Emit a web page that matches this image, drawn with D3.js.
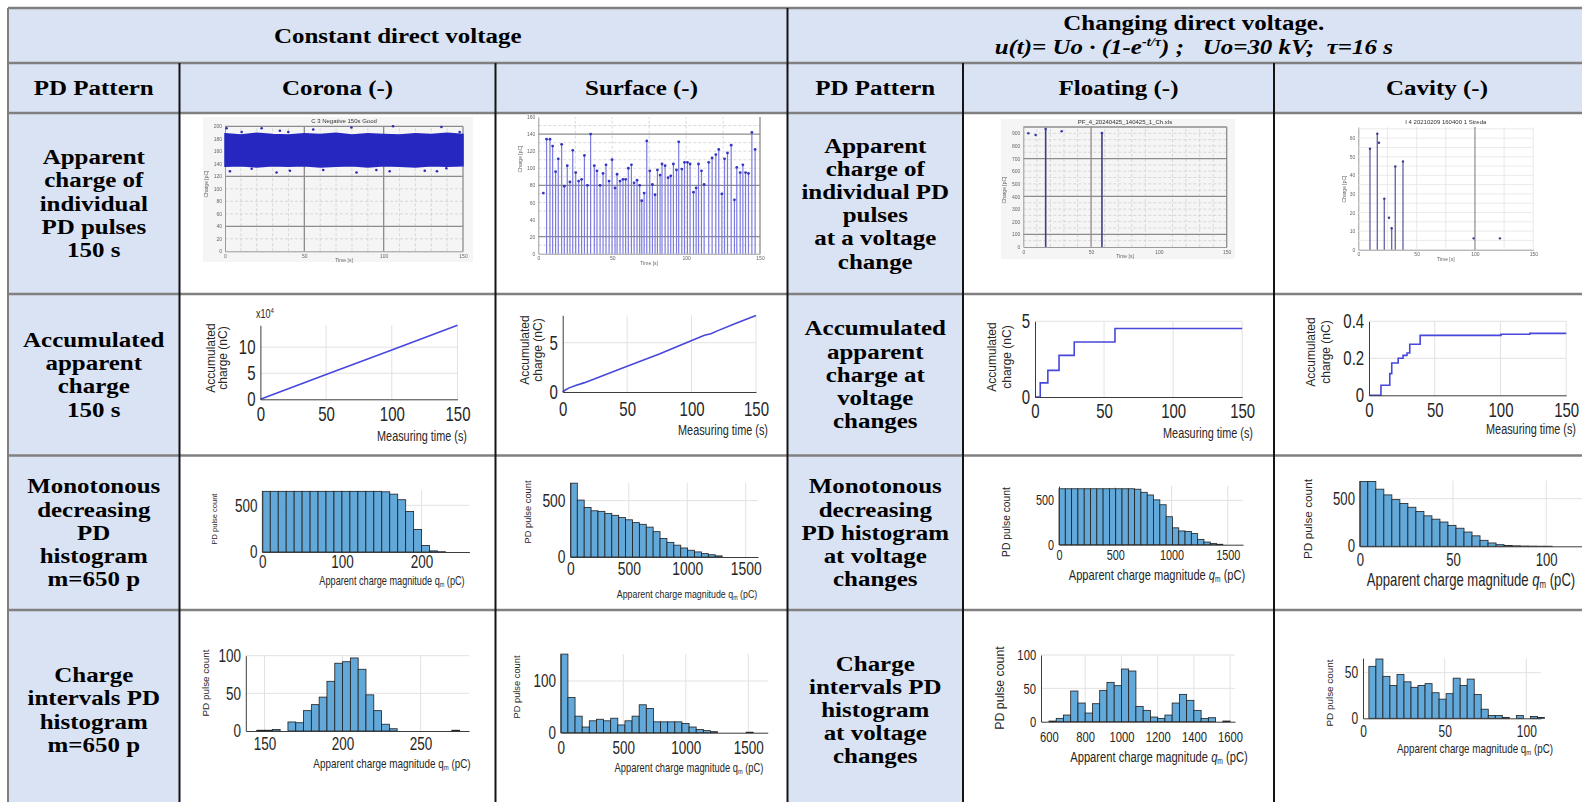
<!DOCTYPE html>
<html>
<head>
<meta charset="utf-8">
<title>PD patterns</title>
<script src="https://cdn.jsdelivr.net/npm/d3@7/dist/d3.min.js"></script>
<style>
  body { margin: 0; background: #fff; }
  svg { display: block; }
</style>
</head>
<body>
<svg id="chart" width="1582" height="802"></svg>
<script>
// ---------- table text ----------
var groupTitles = ["Constant direct voltage", "Changing direct voltage."];
var formulaParts = ["u(t)= Uo · (1-e", "-t/τ", ") ;   Uo=30 kV;  τ=16 s"];
var columnTitles = ["PD Pattern", "Corona (-)", "Surface (-)", "PD Pattern", "Floating (-)", "Cavity (-)"];
var rowLabelsLeft = [
  ["Apparent", "charge of", "individual", "PD pulses", "150 s"],
  ["Accumulated", "apparent", "charge", "150 s"],
  ["Monotonous", "decreasing", "PD", "histogram", "m=650 p"],
  ["Charge", "intervals PD", "histogram", "m=650 p"]
];
var rowLabelsRight = [
  ["Apparent", "charge of", "individual PD", "pulses", "at a voltage", "change"],
  ["Accumulated", "apparent", "charge at", "voltage", "changes"],
  ["Monotonous", "decreasing", "PD histogram", "at voltage", "changes"],
  ["Charge", "intervals PD", "histogram", "at voltage", "changes"]
];

// ---------- row 1 : apparent charge of individual pulses ----------
var timeTicks = [0, 50, 100, 150];
var coronaBandT  = [0, 10, 20, 30, 40, 50, 60, 70, 80, 90, 100, 110, 120, 130, 140, 150];
var coronaBandHi = [188, 186, 189, 187, 186, 188, 187, 189, 186, 188, 187, 186, 188, 187, 189, 187];
var coronaBandLo = [136, 137, 135, 137, 136, 137, 135, 136, 137, 135, 137, 136, 135, 137, 136, 137];
var coronaOutT = [1.0, 10.5, 23.1, 34.6, 39.9, 55.6, 79.7, 105.9, 136.4, 147.9, 3.1, 16.8, 32.5, 40.9, 61.9, 82.9, 95.4, 103.8, 125.9, 133.6, 139.5];
var coronaOutQ = [197, 191, 197, 193, 191, 195, 198, 200, 199, 191, 128, 132, 126, 129, 130, 126, 130, 128, 129, 128, 133];
var coronaQTicks = [0, 20, 40, 60, 80, 100, 120, 140, 160, 180, 200];

var surfacePulseT = [3.4, 5.6, 7.9, 9.7, 11.7, 13.5, 15.8, 17.6, 19.6, 21.4, 23.3, 25.3, 27.3, 29.3, 31.2, 33.2, 35.4, 37.9, 39.7, 41.8,
  43.8, 45.8, 47.9, 49.9, 51.9, 53.3, 55.3, 57.3, 59.1, 60.9, 63.0, 64.8, 66.8, 68.6, 70.0, 71.6, 73.4, 75.4, 77.2, 79.0,
  80.6, 82.4, 83.7, 85.8, 87.8, 89.6, 91.4, 93.5, 95.0, 97.1, 98.9, 100.9, 102.7, 105.0, 106.8, 108.4, 110.4, 112.2, 115.3, 117.6,
  120.1, 122.1, 124.2, 126.0, 128.0, 130.5, 132.7, 134.3, 136.6, 138.4, 140.2, 142.2, 144.5, 146.7];
var surfacePulseQ = [71, 134, 134, 126, 96, 111, 128, 79, 103, 84, 121, 95, 85, 87, 115, 80, 140, 103, 97, 80,
  94, 104, 85, 110, 77, 93, 85, 87, 87, 100, 104, 83, 86, 80, 62, 71, 132, 97, 81, 69,
  98, 92, 105, 103, 89, 91, 105, 98, 131, 99, 107, 107, 105, 72, 77, 105, 97, 81, 107, 112,
  116, 122, 70, 111, 118, 127, 63, 101, 95, 104, 95, 94, 142, 122];
var surfaceQTicks = [0, 20, 40, 60, 80, 100, 120, 140, 160];

var floatPulseT = [3.7, 9.1, 16.5, 28.3, 58.0];
var floatPulseQ = [900, 887, 934, 916, 903];
var floatStem   = [0, 0, 1, 0, 1];
var floatQTicks = [0, 100, 200, 300, 400, 500, 600, 700, 800, 900];

var cavityPulseT = [10.0, 16.3, 17.7, 22.3, 26.3, 28.6, 31.7, 38.3, 98.9, 121.4];
var cavityPulseQ = [54.3, 62.4, 57.5, 27.4, 17.2, 11.5, 44.8, 47.5, 6.1, 6.1];
var cavityStem   = [1, 1, 0, 1, 0, 1, 1, 1, 0, 0];
var cavityQTicks = [0, 10, 20, 30, 40, 50, 60];

// ---------- row 2 : accumulated charge (nC) ----------
var coronaAccT = [0, 50, 100, 150];
var coronaAcc  = [0, 4.75, 9.45, 14.2];          // x10^4
var surfaceAccT = [0, 2, 5, 10, 17, 30, 50, 75, 95, 110, 115, 120, 135, 150];
var surfaceAcc  = [0, 0.2, 0.42, 0.65, 0.95, 1.6, 2.6, 3.85, 4.95, 5.75, 5.9, 6.2, 7.0, 7.75];
var floatAccT = [0, 3.8, 9.3, 17.4, 28.4, 57.9, 150];
var floatAcc  = [0, 0.93, 1.76, 2.75, 3.63, 4.52, 4.52];
var cavityAccT = [0, 9.1, 15.8, 17.3, 22.2, 25.9, 28.9, 31.0, 38.9, 100.4, 122.3, 150];
var cavityAcc  = [0, 0.054, 0.117, 0.175, 0.2, 0.216, 0.229, 0.276, 0.324, 0.33, 0.335, 0.335];

// ---------- row 3 : monotonous decreasing histograms ----------
var coronaMono = [650, 650, 650, 650, 650, 650, 650, 650, 650, 650, 650, 650, 650, 650, 650, 645, 620, 560, 435, 240, 70, 12, 3];
var surfaceMono = [655, 505, 440, 410, 405, 385, 370, 350, 330, 305, 290, 265, 225, 165, 130, 105, 80, 60, 45, 30, 20, 10];
var floatMono = [630, 630, 630, 630, 630, 630, 630, 630, 630, 630, 630, 630, 625, 590, 560, 505, 450, 315, 190, 155, 150, 125, 60, 30, 15, 5];
var cavityMono = [680, 680, 600, 540, 490, 450, 410, 365, 320, 285, 255, 220, 190, 150, 110, 63, 35, 17, 8, 5, 3, 2, 1, 1];

// ---------- row 4 : charge interval histograms ----------
var coronaInt = [1, 1, 2, 0, 12, 11, 27, 35, 45, 66, 90, 92, 97, 82, 48, 27, 9, 3, 0, 0, 0, 0, 0, 0, 0, 1];
var surfaceInt = [152, 68, 32, 11, 23, 26, 23, 28, 15, 23, 32, 54, 47, 21, 21, 21, 21, 18, 11, 6, 4, 2, 0, 0, 0, 0, 1];
var floatInt = [1, 5, 10, 46, 28, 13, 27, 47, 59, 54, 79, 76, 23, 17, 7, 5, 10, 28, 41, 32, 17, 5, 6, 0, 1];
var cavityInt = [57, 65, 46, 36, 48, 40, 34, 36, 38, 28, 21, 27, 44, 36, 43, 26, 10, 3, 3, 1, 0, 3, 0, 2, 1];

// ---------- layout ----------
var colX = [8, 179.5, 495.5, 787.5, 963, 1274, 1600];
var rowY = [8, 63, 113, 294, 455.5, 610, 810];
var BLUE = "#dae3f3";
var SERIF = "'Liberation Serif','Times New Roman',serif";
var SANS = "'Liberation Sans',Arial,Helvetica,sans-serif";
var SX = 0.75;          // the chart pictures are squeezed sideways
var BAR = "#62a8d9";
var LINE = "#4747dc";

var svg = d3.select("#chart");
svg.append("defs").append("filter").attr("id", "soft")
  .append("feGaussianBlur").attr("stdDeviation", 0.45);

// cell backgrounds
svg.append("rect").attr("x", colX[0]).attr("y", rowY[0])
  .attr("width", colX[6] - colX[0]).attr("height", rowY[2] - rowY[0]).attr("fill", BLUE);
[0, 3].forEach(function (c) {
  svg.append("rect").attr("x", colX[c]).attr("y", rowY[2])
    .attr("width", colX[c + 1] - colX[c]).attr("height", rowY[6] - rowY[2]).attr("fill", BLUE);
});

function serifText(x, y, str) {
  return svg.append("text")
    .attr("transform", "translate(" + x + "," + y + ") scale(1.2,1)")
    .attr("text-anchor", "middle")
    .attr("font-family", SERIF).attr("font-weight", "bold").attr("font-size", 20.8)
    .attr("fill", "#000").text(str);
}

// header
serifText((colX[0] + colX[3]) / 2, 43, groupTitles[0]);
serifText((colX[3] + colX[6]) / 2, 29.5, groupTitles[1]);
var f = svg.append("text")
  .attr("transform", "translate(" + ((colX[3] + colX[6]) / 2) + ",53.5) scale(1.2,1)")
  .attr("text-anchor", "middle").style("white-space", "pre")
  .attr("font-family", SERIF).attr("font-weight", "bold").attr("font-style", "italic").attr("font-size", 20.8);
f.append("tspan").text(formulaParts[0]);
f.append("tspan").attr("dy", -8).attr("font-size", 12).text(formulaParts[1]);
f.append("tspan").attr("dy", 8).text(formulaParts[2]);

columnTitles.forEach(function (t, i) {
  serifText((colX[i] + colX[i + 1]) / 2, 95, t);
});

function rowLabels(lines, col, row) {
  var cy = (rowY[row + 2] + rowY[row + 3]) / 2;
  var cx = (colX[col] + colX[col + 1]) / 2;
  lines.forEach(function (s, i) {
    serifText(cx, cy - (lines.length - 1) / 2 * 23.2 + i * 23.2 + 7, s);
  });
}
rowLabelsLeft.forEach(function (l, r) { rowLabels(l, 0, r); });
rowLabelsRight.forEach(function (l, r) { rowLabels(l, 3, r); });

// ---------- row 1 panels ----------
function pulsePanel(c) {
  var g = svg.append("g").attr("filter", "url(#soft)");
  if (c.bg) g.append("rect").attr("x", c.bg[0]).attr("y", c.bg[1])
    .attr("width", c.bg[2]).attr("height", c.bg[3]).attr("fill", "#f5f5f5");
  var x = d3.scaleLinear().domain([0, 150]).range(c.xr);
  var y = d3.scaleLinear().domain(c.yd).range(c.yr);
  function hl(vals, col, dash, w) {
    g.append("g").selectAll("line").data(vals).join("line")
      .attr("x1", c.xr[0]).attr("x2", c.xr[1])
      .attr("y1", function (d) { return y(d); }).attr("y2", function (d) { return y(d); })
      .attr("stroke", col).attr("stroke-width", w).attr("stroke-dasharray", dash);
  }
  function vl(vals, col, dash, w) {
    g.append("g").selectAll("line").data(vals).join("line")
      .attr("y1", c.yr[0]).attr("y2", c.yr[1])
      .attr("x1", function (d) { return x(d); }).attr("x2", function (d) { return x(d); })
      .attr("stroke", col).attr("stroke-width", w).attr("stroke-dasharray", dash);
  }
  hl(c.hDash, "#d0d0d0", "3,2", 0.8);
  vl(c.vDash, "#d0d0d0", "3,2", 0.8);
  hl(c.hSolid, "#8c8c8c", null, 1.3);
  vl(c.vSolid, "#8c8c8c", null, 1.3);

  var ax = g.append("g").attr("transform", "translate(0," + c.yr[0] + ")")
    .call(d3.axisBottom(x).tickValues(timeTicks).tickSize(0).tickPadding(3));
  var ay = g.append("g").attr("transform", "translate(" + c.xr[0] + ",0)")
    .call(d3.axisLeft(y).tickValues(c.yt).tickSize(0).tickPadding(3));
  [ax, ay].forEach(function (a) {
    a.select(".domain").attr("stroke", "#9a9a9a");
    a.selectAll("text").attr("font-size", 5).attr("fill", "#666").attr("font-family", SANS);
  });
  if (c.title) g.append("text").attr("x", (c.xr[0] + c.xr[1]) / 2).attr("y", c.yr[1] - 3)
    .attr("text-anchor", "middle").attr("font-family", SANS).attr("font-size", 6).attr("fill", "#333").text(c.title);
  g.append("text").attr("x", (c.xr[0] + c.xr[1]) / 2).attr("y", c.yr[0] + 11)
    .attr("text-anchor", "middle").attr("font-family", SANS).attr("font-size", 5).attr("fill", "#666").text("Time [s]");
  g.append("text").attr("transform", "translate(" + c.yl[0] + "," + c.yl[1] + ") rotate(-90)")
    .attr("text-anchor", "middle").attr("font-family", SANS).attr("font-size", 5).attr("fill", "#666").text("Charge [pC]");
  return { g: g, x: x, y: y };
}

function stems(p, T, Q, use, col, w) {
  var idx = d3.range(T.length).filter(function (i) { return !use || use[i]; });
  p.g.append("g").selectAll("line").data(idx).join("line")
    .attr("x1", function (i) { return p.x(T[i]); }).attr("x2", function (i) { return p.x(T[i]); })
    .attr("y1", p.y(0)).attr("y2", function (i) { return p.y(Q[i]); })
    .attr("stroke", col).attr("stroke-width", w);
}
function dots(p, T, Q, col, r) {
  p.g.append("g").selectAll("circle").data(T).join("circle")
    .attr("cx", function (d) { return p.x(d); }).attr("cy", function (d, i) { return p.y(Q[i]); })
    .attr("r", r).attr("fill", col);
}

// corona pulses
var pc = pulsePanel({ xr: [225, 463], yd: [0, 200], yr: [251.3, 126.3], yt: coronaQTicks, bg: [203, 117, 270, 145],
  hDash: [20, 60, 80, 100, 140, 160, 180], hSolid: [40, 120, 200],
  vDash: [10, 20, 30, 40, 60, 70, 80, 90, 110, 120, 130, 140], vSolid: [50, 100, 150],
  title: "C 3 Negative 150s Good", yl: [208, 184] });
pc.g.append("path").datum(coronaBandT)
  .attr("d", d3.area().x(function (d) { return pc.x(d); })
    .y0(function (d, i) { return pc.y(coronaBandLo[i]); })
    .y1(function (d, i) { return pc.y(coronaBandHi[i]); }))
  .attr("fill", "#2626c0").attr("stroke", "#2626c0").attr("stroke-width", 1.5);
dots(pc, coronaOutT, coronaOutQ, "#2a2ab8", 1.3);

// surface pulses
var ps = pulsePanel({ xr: [538.3, 760], yd: [0, 160], yr: [253.7, 117], yt: surfaceQTicks,
  hDash: [10, 30, 50, 60, 70, 90, 100, 110, 120, 130, 150], hSolid: [20, 80, 140],
  vDash: [25, 50, 75, 100, 125], vSolid: [150], yl: [522, 159] });
stems(ps, surfacePulseT.slice(1), surfacePulseQ.slice(1), null, "#7b7be0", 1.2);
dots(ps, surfacePulseT, surfacePulseQ, "#3434c4", 1.4);

// floating pulses
var pf = pulsePanel({ xr: [1023.3, 1226.7], yd: [0, 950], yr: [247, 127], yt: floatQTicks, bg: [1001, 119, 234, 140],
  hDash: [50, 150, 200, 250, 300, 350, 450, 500, 550, 600, 650, 750, 800, 850, 900], hSolid: [100, 400, 700, 950],
  vDash: [10, 20, 30, 40, 60, 70, 80, 90, 110, 120, 130, 140], vSolid: [50, 150],
  title: "PF_4_20240425_140425_1_Ch.xls", yl: [1006, 190] });
stems(pf, floatPulseT, floatPulseQ, floatStem, "#3e3e88", 1.6);
dots(pf, floatPulseT, floatPulseQ, "#3a3aa0", 1.3);

// cavity pulses
var pv = pulsePanel({ xr: [1358.3, 1533.3], yd: [0, 66], yr: [249.7, 127], yt: cavityQTicks,
  hDash: [], hSolid: [],
  vDash: [], vSolid: [], title: "I 4 20210209 160400 1 Streda", yl: [1346, 189] });
pv.g.append("g").selectAll("line").data([5, 10, 15, 20, 25, 30, 35, 40, 45, 50, 55, 60, 65]).join("line")
  .attr("x1", 1358.3).attr("x2", 1533.3).attr("y1", function (d) { return pv.y(d); }).attr("y2", function (d) { return pv.y(d); })
  .attr("stroke", "#e4e4e4").attr("stroke-width", 0.8);
pv.g.append("g").selectAll("line").data([25, 50, 75, 125, 150]).join("line")
  .attr("y1", 249.7).attr("y2", 127).attr("x1", function (d) { return pv.x(d); }).attr("x2", function (d) { return pv.x(d); })
  .attr("stroke", "#e4e4e4").attr("stroke-width", 0.8);
pv.g.append("line").attr("x1", pv.x(100)).attr("x2", pv.x(100)).attr("y1", 249.7).attr("y2", 127)
  .attr("stroke", "#8c8c8c").attr("stroke-width", 1.2);
stems(pv, cavityPulseT, cavityPulseQ, cavityStem, "#6c6ca8", 1.4);
dots(pv, cavityPulseT, cavityPulseQ, "#3a3a90", 1.2);

// ---------- MATLAB-like panels (rows 2-4) ----------
function frame(c) {
  var g = svg.append("g");
  var x = d3.scaleLinear().domain(c.xd).range(c.xr);
  var y = d3.scaleLinear().domain(c.yd).range(c.yr);
  g.append("g").selectAll("line").data(c.gx).join("line")
    .attr("x1", function (d) { return x(d); }).attr("x2", function (d) { return x(d); })
    .attr("y1", c.yr[0]).attr("y2", c.yr[1]).attr("stroke", "#e2e2e2").attr("stroke-width", 1);
  g.append("g").selectAll("line").data(c.gy).join("line")
    .attr("y1", function (d) { return y(d); }).attr("y2", function (d) { return y(d); })
    .attr("x1", c.xr[0]).attr("x2", c.xr[1]).attr("stroke", "#e2e2e2").attr("stroke-width", 1);
  return { g: g, x: x, y: y };
}

function axes(p, c) {
  var fmt = d3.format("~g");
  var ax = p.g.append("g").attr("transform", "translate(0," + c.yr[0] + ")")
    .call(d3.axisBottom(p.x).tickValues(c.xt).tickSize(0).tickPadding(c.px).tickFormat(fmt));
  var ay = p.g.append("g").attr("transform", "translate(" + c.xr[0] + ",0)")
    .call(d3.axisLeft(p.y).tickValues(c.yt).tickSize(0).tickPadding(c.py || 6.5).tickFormat(fmt));
  [ax, ay].forEach(function (a) {
    a.select(".domain").attr("stroke", "#3c3c3c").attr("stroke-width", 1);
    a.selectAll("text").attr("font-family", SANS).attr("font-size", c.fs).attr("fill", "#262626")
      .attr("transform", "scale(" + SX + ",1)");
  });
  // x label
  var t = p.g.append("text")
    .attr("transform", "translate(" + c.xl[0] + "," + c.xl[1] + ") scale(" + SX + ",1)")
    .attr("text-anchor", "middle").attr("font-family", SANS).attr("font-size", c.xl[2]).attr("fill", "#262626");
  if (c.q) {
    t.append("tspan").text("Apparent charge magnitude ");
    t.append("tspan").attr("font-style", c.q === "i" ? "italic" : null).text("q");
    t.append("tspan").attr("font-size", c.xl[2] * 0.6).attr("dy", 2).text("m");
    t.append("tspan").attr("dy", -2).text(" (pC)");
  } else {
    t.text("Measuring time (s)");
  }
  // y label
  c.yl.lines.forEach(function (s, i) {
    p.g.append("text")
      .attr("transform", "translate(" + c.yl.x[i] + "," + c.yl.y + ") rotate(-90)")
      .attr("text-anchor", "middle").attr("font-family", SANS).attr("font-size", c.yl.fs)
      .attr("fill", "#262626").text(s);
  });
}

function accPanel(c, T, Q, step) {
  var p = frame(c);
  p.g.append("path").datum(T)
    .attr("d", d3.line().curve(step ? d3.curveStepAfter : d3.curveLinear)
      .x(function (d) { return p.x(d); }).y(function (d, i) { return p.y(Q[i]); }))
    .attr("fill", "none").attr("stroke", LINE).attr("stroke-width", 1.6);
  axes(p, c);
  return p;
}

function histPanel(c, counts, start, bin) {
  var p = frame(c);
  p.g.append("g").selectAll("rect").data(counts).join("rect")
    .attr("x", function (d, i) { return p.x(start + i * bin); })
    .attr("width", function (d, i) { return p.x(start + (i + 1) * bin) - p.x(start + i * bin); })
    .attr("y", function (d) { return p.y(d); })
    .attr("height", function (d) { return p.y(0) - p.y(d); })
    .attr("fill", BAR).attr("stroke", "#1f1f1f").attr("stroke-width", 0.8);
  axes(p, c);
  return p;
}

var accY = ["Accumulated", "charge  (nC)"];
var pcY = ["PD pulse count"];

// row 2
var ca = accPanel({ xd: [0, 150], xr: [260.4, 457.5], yd: [0, 14.2], yr: [399.3, 325.3],
  xt: timeTicks, yt: [0, 5, 10], gx: [50, 100, 150], gy: [5, 10], fs: 20, px: 8,
  xl: [422, 441, 14.5], yl: { lines: accY, x: [215, 227], y: 358, fs: 12 } }, coronaAccT, coronaAcc, false);
ca.g.append("text").attr("transform", "translate(256,318) scale(" + SX + ",1)")
  .attr("font-family", SANS).attr("font-size", 12).attr("fill", "#262626")
  .call(function (t) {
    t.append("tspan").text("x10");
    t.append("tspan").attr("font-size", 8).attr("dy", -5).text("4");
  });
accPanel({ xd: [0, 150], xr: [562.7, 756], yd: [0, 7.78], yr: [392, 315.3],
  xt: timeTicks, yt: [0, 5], gx: [50, 100, 150], gy: [5], fs: 20, px: 10,
  xl: [723, 435, 14.5], yl: { lines: accY, x: [529, 542], y: 350, fs: 12 } }, surfaceAccT, surfaceAcc, false);
accPanel({ xd: [0, 150], xr: [1035, 1242.2], yd: [0, 5], yr: [397, 321.3],
  xt: timeTicks, yt: [0, 5], gx: [50, 100, 150], gy: [5], fs: 20, px: 7.3,
  xl: [1208, 437.5, 14.5], yl: { lines: accY, x: [996, 1011], y: 357, fs: 12 } }, floatAccT, floatAcc, true);
accPanel({ xd: [0, 150], xr: [1369, 1566.2], yd: [0, 0.4], yr: [395.3, 321.3],
  xt: timeTicks, yt: [0, 0.2, 0.4], gx: [50, 100, 150], gy: [0.2, 0.4], fs: 20, px: 7.3,
  xl: [1531, 434, 14.5], yl: { lines: accY, x: [1315, 1330], y: 352, fs: 12 } }, cavityAccT, cavityAcc, true);

// row 3
histPanel({ xd: [0, 260], xr: [262.3, 469.4], yd: [0, 660], yr: [552, 490.4],
  xt: [0, 100, 200], yt: [0, 500], gx: [100, 200], gy: [500], fs: 18, px: 3,
  q: "n", xl: [392, 585, 12.2], yl: { lines: pcY, x: [217], y: 519, fs: 7.5 } }, coronaMono, 0, 10);
histPanel({ xd: [0, 1605], xr: [570.4, 758], yd: [0, 660], yr: [557, 482.6],
  xt: [0, 500, 1000, 1500], yt: [0, 500], gx: [500, 1000, 1500], gy: [500], fs: 18.5, px: 5,
  q: "n", xl: [687, 598, 11.8], yl: { lines: pcY, x: [531], y: 512, fs: 9.3 } }, surfaceMono, 0, 59);
histPanel({ xd: [0, 1635], xr: [1059, 1243], yd: [0, 660], yr: [544.7, 486.1],
  xt: [0, 500, 1000, 1500], yt: [0, 500], gx: [500, 1000, 1500], gy: [500], fs: 14.5, px: 5.3,
  q: "i", xl: [1157, 580, 14.8], yl: { lines: pcY, x: [1010], y: 522, fs: 10.3 } }, floatMono, 0, 56);
histPanel({ xd: [0, 120], xr: [1359.8, 1583.5], yd: [0, 690], yr: [546.3, 480.6],
  xt: [0, 50, 100], yt: [0, 500], gx: [50, 100], gy: [500], fs: 17.5, px: 7.5,
  q: "i", xl: [1471, 586, 17.5], yl: { lines: pcY, x: [1312], y: 519, fs: 11.8 } }, cavityMono, 0, 4.3);

// row 4
histPanel({ xd: [138, 281], xr: [245.8, 469], yd: [0, 100], yr: [731, 655.7],
  xt: [150, 200, 250], yt: [0, 50, 100], gx: [150, 200, 250], gy: [50, 100], fs: 18, px: 6.2,
  q: "n", xl: [392, 768, 13.2], yl: { lines: pcY, x: [209], y: 683, fs: 9.9 } }, coronaInt, 145, 5);
histPanel({ xd: [0, 1655], xr: [560.8, 767.7], yd: [0, 152], yr: [732.7, 654.1],
  xt: [0, 500, 1000, 1500], yt: [0, 100], gx: [500, 1000, 1500], gy: [100], fs: 18, px: 8.5,
  q: "n", xl: [689, 772, 12.5], yl: { lines: pcY, x: [520], y: 687, fs: 9.3 } }, surfaceInt, 0, 57);
histPanel({ xd: [556, 1627], xr: [1041, 1235], yd: [0, 100], yr: [721.7, 655],
  xt: [600, 800, 1000, 1200, 1400, 1600], yt: [0, 50, 100], gx: [800, 1000, 1200, 1400, 1600], gy: [50, 100], fs: 15, px: 10,
  q: "i", xl: [1159, 762, 14.9], yl: { lines: pcY, x: [1004], y: 688, fs: 12.3 } }, floatInt, 600, 40);
histPanel({ xd: [0, 109], xr: [1363, 1541], yd: [0, 66], yr: [718.3, 658.1],
  xt: [0, 50, 100], yt: [0, 50], gx: [50, 100], gy: [50], fs: 16, px: 7.3,
  q: "n", xl: [1475, 753, 13.1], yl: { lines: pcY, x: [1333], y: 693, fs: 9.9 } }, cavityInt, 3.6, 4.3);

// ---------- table borders ----------
rowY.slice(0, 6).forEach(function (yv) {
  svg.append("line").attr("x1", colX[0]).attr("x2", colX[6]).attr("y1", yv).attr("y2", yv)
    .attr("stroke", "#808080").attr("stroke-width", 2.5);
});
[[colX[0], rowY[0], "#808080"], [colX[3], rowY[0], "#141414"],
 [colX[1], rowY[1], "#141414"], [colX[2], rowY[1], "#141414"],
 [colX[4], rowY[1], "#141414"], [colX[5], rowY[1], "#141414"]].forEach(function (v) {
  svg.append("line").attr("x1", v[0]).attr("x2", v[0]).attr("y1", v[1]).attr("y2", rowY[6])
    .attr("stroke", v[2]).attr("stroke-width", 2);
});
</script>
</body>
</html>
